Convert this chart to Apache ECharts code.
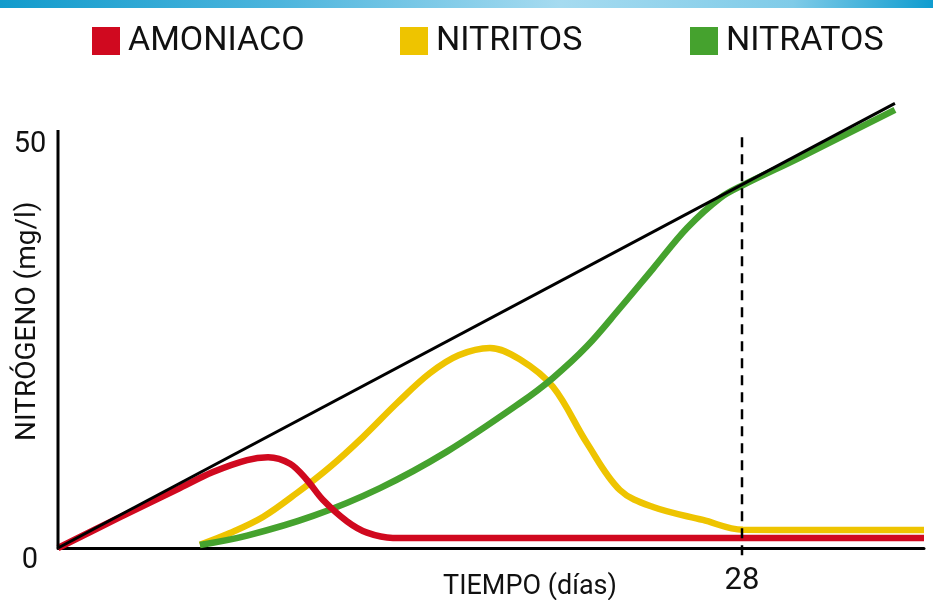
<!DOCTYPE html>
<html>
<head>
<meta charset="utf-8">
<script src="https://cdn.jsdelivr.net/npm/echarts@6/dist/echarts.min.js"></script>
<style>
  html, body { margin: 0; padding: 0; background: #fff; }
  #chart { width: 933px; height: 600px; }
</style>
</head>
<body>
<div id="chart"></div>
<script>
// ---- Data ----
const seriesNames = ['AMONIACO', 'NITRITOS', 'NITRATOS'];
const xTickLabels = [28];
const yTickLabels = [0, 50];

// [día, mg/l]
const amoniaco = [
  [0, 0], [2.5, 3.75], [4.99, 7.4], [6.34, 9.38], [7.74, 10.86], [8.6, 11.2], [9.5, 10.4],
  [10.19, 8.4], [10.85, 5.93], [11.83, 3.3], [12.65, 1.9], [13.71, 1.25],
  [17, 1.25], [24, 1.25], [35.45, 1.25]
];
const nitritos = [
  [5.81, 0.4], [7.04, 1.85], [8.39, 3.83], [9.78, 6.79], [11.13, 10.0], [12.48, 13.7],
  [13.88, 17.9], [15.23, 21.6], [16.4, 23.8], [17.68, 24.7], [18.9, 23.3], [20.26, 19.9],
  [21.65, 12.96], [23.0, 7.16], [24.36, 5.06], [26.4, 3.46], [28.04, 2.25], [31, 2.22], [35.45, 2.22]
];
const nitratos = [
  [5.81, 0.37], [7.74, 1.53], [10.44, 3.96], [13.18, 7.4], [15.92, 11.9], [18.91, 17.9],
  [20.26, 21.0], [21.65, 24.9], [23.0, 29.6], [24.36, 34.5], [25.75, 39.5], [27.1, 43.2],
  [28.04, 44.8], [30.37, 48.2], [34.26, 54.1]
];
const referenceLine = [[0, 0], [34.26, 54.9]];
const day28Line = [[28, -0.9], [28, 51.2]];
const yAxisLine = [[0, 0], [0, 51.6]];

const colors = { AMONIACO: '#D0091F', NITRITOS: '#EEC400', NITRATOS: '#45A22E' };
const FONT = 'Roboto, "Liberation Sans", sans-serif';
const SMOOTH = 0.35;

const chart = echarts.init(document.getElementById('chart'), null, { renderer: 'canvas' });

function legendAt(name, left) {
  return {
    data: [name], left: left, top: 24, padding: 0, icon: 'rect', itemWidth: 28, itemHeight: 28,
    selectedMode: false,
    textStyle: { fontSize: 34, fontFamily: FONT, color: '#111', padding: [0, 0, 0, 3] }
  };
}

const option = {
  animation: false,
  backgroundColor: '#fff',
  graphic: [{
    type: 'rect', left: 0, top: 0, shape: { width: 933, height: 8 },
    style: {
      fill: new echarts.graphic.LinearGradient(0, 0, 1, 0, [
        { offset: 0, color: '#129bcc' }, { offset: 0.3, color: '#4db5dd' },
        { offset: 0.6, color: '#a6dbf0' }, { offset: 0.85, color: '#7fcbe8' },
        { offset: 1, color: '#0f9ccf' }
      ])
    }
  }],
  legend: [legendAt('AMONIACO', 92), legendAt('NITRITOS', 400), legendAt('NITRATOS', 690)],
  grid: { left: 58, right: 9, top: 94.4, bottom: 52, containLabel: false, outerBoundsMode: 'none' },
  xAxis: {
    type: 'value', min: 0, max: 35.45, interval: 28,
    name: 'TIEMPO (días)', nameLocation: 'middle', nameGap: 26, nameMoveOverlap: false,
    nameTextStyle: { fontSize: 27, fontFamily: FONT, color: '#111', padding: [0, 0, 0, 78] },
    axisLine: { show: true, lineStyle: { color: '#000', width: 3 } },
    axisTick: { show: false },
    splitLine: { show: false },
    axisLabel: {
      showMinLabel: true, showMaxLabel: false, margin: 18,
      fontSize: 31, fontFamily: FONT, color: '#111',
      formatter: v => (xTickLabels.indexOf(v) >= 0 ? String(v) : '')
    }
  },
  yAxis: {
    type: 'value', min: 0, max: 56, interval: 50,
    name: 'NITRÓGENO (mg/l)', nameLocation: 'middle', nameGap: 16, nameMoveOverlap: false,
    nameTextStyle: { fontSize: 28, fontFamily: FONT, color: '#111' },
    axisLine: { show: false },
    axisTick: { show: false },
    splitLine: { show: false },
    axisLabel: {
      showMaxLabel: false, margin: 28, align: 'center',
      fontSize: 29, fontFamily: FONT, color: '#111',
      formatter: v => (yTickLabels.indexOf(v) < 0 ? '' : (v === 0 ? '{lo|' + v + '}' : '{hi|' + v + '}')),
      rich: {
        lo: { fontSize: 29, fontFamily: FONT, color: '#111', padding: [26, 0, 0, 0] },
        hi: { fontSize: 29, fontFamily: FONT, color: '#111', padding: [4, 0, 0, 0] }
      }
    }
  },
  series: [
    {
      name: 'NITRITOS', type: 'line', data: nitritos, smooth: SMOOTH,
      showSymbol: false, color: colors.NITRITOS, lineStyle: { width: 6.5, color: colors.NITRITOS }, z: 2
    },
    {
      name: 'NITRATOS', type: 'line', data: nitratos, smooth: SMOOTH,
      showSymbol: false, color: colors.NITRATOS, lineStyle: { width: 6.5, color: colors.NITRATOS }, z: 3
    },
    {
      name: 'AMONIACO', type: 'line', data: amoniaco, smooth: SMOOTH,
      showSymbol: false, color: colors.AMONIACO, lineStyle: { width: 6.5, color: colors.AMONIACO }, z: 4
    },
    {
      name: 'ref', type: 'line', data: referenceLine, showSymbol: false, clip: false,
      lineStyle: { width: 3, color: '#000' }, z: 5, silent: true
    },
    {
      name: 'dia28', type: 'line', data: day28Line, showSymbol: false, clip: false,
      lineStyle: { width: 2.5, color: '#000', type: [10, 7] }, z: 6, silent: true
    },
    {
      name: 'yaxis', type: 'line', data: yAxisLine, showSymbol: false, clip: false,
      lineStyle: { width: 3, color: '#000' }, z: 6, silent: true
    }
  ]
};
chart.setOption(option);
</script>
</body>
</html>
